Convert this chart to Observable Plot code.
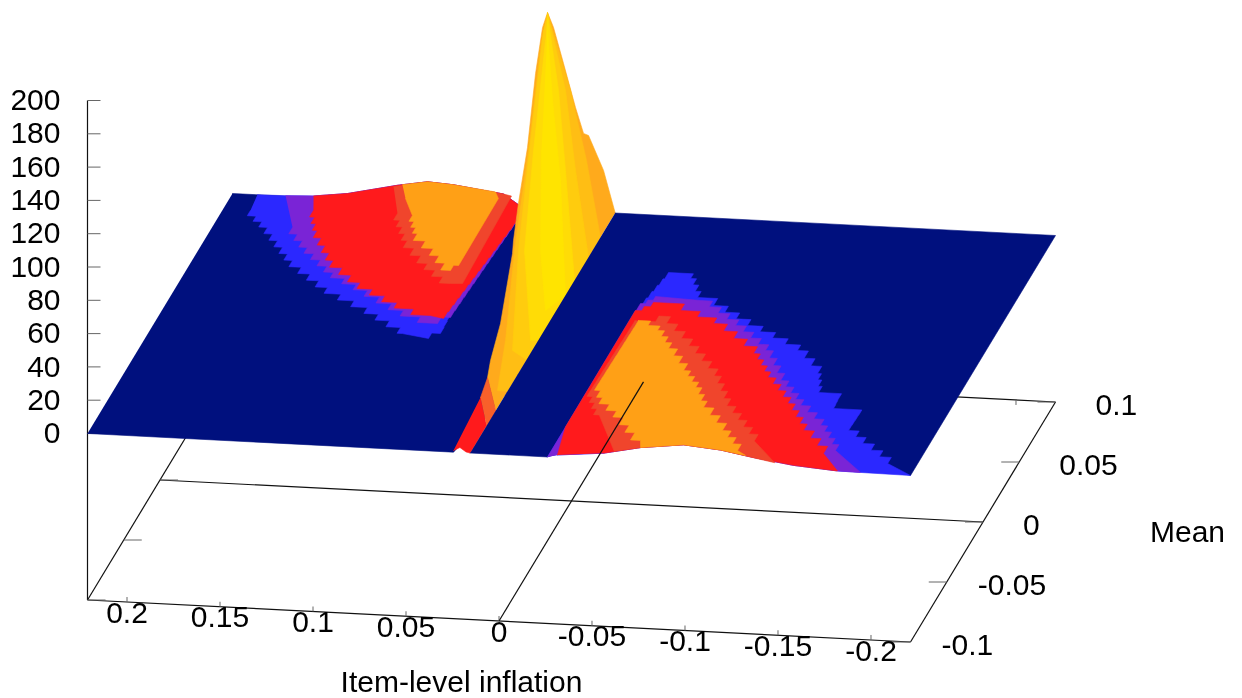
<!DOCTYPE html>
<html>
<head>
<meta charset="utf-8">
<style>html,body{margin:0;padding:0;background:#fff}svg{display:block;filter:blur(0.55px)}</style>
<script src="https://cdn.jsdelivr.net/npm/d3@7"></script>
<script src="https://cdn.jsdelivr.net/npm/@observablehq/plot@0.6"></script>
</head>
<body>
<div id="chart"></div>
<script>
// Tick values
const zTicks = [0,20,40,60,80,100,120,140,160,180,200];
const inflationTicks = [0.2,0.15,0.1,0.05,0,-0.05,-0.1,-0.15,-0.2];
const meanTicks = [0.1,0.05,0,-0.05,-0.1];
const FLOOR = -100;
const axisStretch = 0.904; // the inflation axis runs past +-0.2: tick value -> surface coordinate

// Surface regions, each vertex = [inflation, mean, density]
const planeLeft = [[0.2,-0.1,0],[0.0221,-0.1,0],[0.014,-0.05,0],[0.0404,0.0581,0],[0.061,0.1,0],[0.2,0.1,0]];
const planeRight = [[0.014,-0.1,0],[-0.0236,-0.1,0],[-0.07,-0.05,0],[-0.17,-0.09,0],[-0.2,-0.1,0],[-0.2,0.1,0],[0.014,0.1,0]];

const leftBlue = [[0.1879,0.1,0],[0.1742,0.1,0.3],[0.1606,0.1,1],[0.1441,0.1,3.5],[0.1198,0.1,10],[0.1052,0.1,13],[0.0926,0.1,12],[0.0683,0.1,8],[0.061,0.1,2],[0.058,0.0874,0],[0.0631,0.0162,0],[0.0621,-0.0046,0],[0.0663,-0.0091,0],[0.08,-0.0062,0],[0.0826,-0.0014,0],[0.1039,0.0134,0],[0.1284,0.0279,0],[0.1526,0.0483,0],[0.1738,0.074,0],[0.1867,0.087,0]];
const leftPurple = [[0.1742,0.1,0.3],[0.1606,0.1,1],[0.1441,0.1,3.5],[0.1198,0.1,10],[0.1052,0.1,13],[0.0926,0.1,12],[0.0683,0.1,8],[0.061,0.1,2],[0.058,0.0874,0],[0.0619,0.0088,0],[0.0663,0.0034,0],[0.0861,0.0125,0],[0.1087,0.0272,0],[0.1299,0.0403,0],[0.1493,0.0594,0],[0.162,0.075,0]];
const leftRed = [[0.1606,0.1,1],[0.1441,0.1,3.5],[0.1198,0.1,10],[0.1052,0.1,13],[0.0926,0.1,12],[0.0683,0.1,8],[0.061,0.1,2],[0.058,0.0874,0],[0.0649,0.0077,0],[0.0719,0.0095,0],[0.0912,0.0187,0],[0.1143,0.0333,0],[0.1333,0.05,0],[0.1494,0.0736,0],[0.157,0.0896,0]];
const leftRedOrange = [[0.1217,0.1,9],[0.1052,0.1,13],[0.0926,0.1,12],[0.0683,0.1,8],[0.0644,0.1,7],[0.0659,0.0367,0],[0.0716,0.0362,0],[0.0881,0.0515,0],[0.1041,0.0692,0],[0.1165,0.0906,0]];
const leftOrange = [[0.1174,0.1,10.5],[0.1052,0.1,13],[0.0926,0.1,12],[0.0722,0.1,9],[0.0732,0.1069,0],[0.0729,0.0511,0],[0.0753,0.0468,0],[0.0896,0.0638,0],[0.1014,0.0753,0],[0.1089,0.0896,0],[0.117,0.1031,0]];

const rightBlue = [[-0.0236,-0.1,0],[-0.0233,0.022,0],[-0.0281,0.0541,0],[-0.0402,0.0502,0],[-0.0489,0.0351,0],[-0.0587,0.0293,0],[-0.0804,0.0145,0],[-0.1111,-0.0036,0],[-0.1271,-0.0214,0],[-0.133,-0.0367,0],[-0.1442,-0.0424,0],[-0.1446,-0.049,0],[-0.1584,-0.0536,0],[-0.158,-0.0662,0],[-0.1683,-0.0761,0],[-0.1858,-0.0912,0],[-0.2,-0.1,0],[-0.1757,-0.1,0.3],[-0.1645,-0.1,0.5],[-0.1431,-0.1,2.5],[-0.1237,-0.1,6],[-0.1077,-0.1,9.5],[-0.0897,-0.1,11.5],[-0.0688,-0.1,8.5],[-0.0508,-0.1,4],[-0.0284,-0.1,1.5]];
const rightPurple = [[-0.0236,-0.1,0],[-0.0237,0.0279,0],[-0.0288,0.0342,0],[-0.0511,0.0328,0],[-0.0748,0.014,0],[-0.096,-0.0049,0],[-0.1117,-0.0286,0],[-0.1282,-0.048,0],[-0.1433,-0.0633,0],[-0.1575,-0.0829,0],[-0.1757,-0.1,0.3],[-0.1645,-0.1,0.5],[-0.1431,-0.1,2.5],[-0.1237,-0.1,6],[-0.1077,-0.1,9.5],[-0.0897,-0.1,11.5],[-0.0688,-0.1,8.5],[-0.0508,-0.1,4],[-0.0284,-0.1,1.5]];
const rightRed = [[-0.0284,-0.1,1.5],[-0.0235,-0.075,0],[-0.0233,0.022,0],[-0.0295,0.0293,0],[-0.0446,0.0239,0],[-0.0638,0.0148,0],[-0.0912,-0.0079,0],[-0.1047,-0.0267,0],[-0.1215,-0.0469,0],[-0.1367,-0.068,0],[-0.1527,-0.0858,0],[-0.1645,-0.1,0.5],[-0.1431,-0.1,2.5],[-0.1237,-0.1,6],[-0.1077,-0.1,9.5],[-0.0897,-0.1,11.5],[-0.0688,-0.1,8.5],[-0.0508,-0.1,4]];
const rightRedOrange = [[-0.026,0.0138,0],[-0.036,0.0185,0],[-0.0585,-0.0044,0],[-0.079,-0.0276,0],[-0.0935,-0.0514,0],[-0.1165,-0.0785,0],[-0.134,-0.1,3.5],[-0.1077,-0.1,9.5],[-0.0897,-0.1,11.5],[-0.0688,-0.1,8.5],[-0.056,-0.1,5.5],[-0.036,-0.0639,0],[-0.0249,-0.0445,0]];
const rightOrange = [[-0.0276,0.0141,0],[-0.0394,0.0068,0],[-0.0497,-0.0073,0],[-0.0631,-0.0245,0],[-0.0736,-0.0377,0],[-0.083,-0.0536,0],[-0.0985,-0.0714,0],[-0.1113,-0.0869,0],[-0.1198,-0.1,7],[-0.1077,-0.1,9.5],[-0.0897,-0.1,11.5],[-0.0688,-0.1,8.5],[-0.0627,-0.0828,0],[-0.0482,-0.065,0],[-0.0326,-0.0497,0],[-0.0267,-0.0385,0]];

// Central ridge, outer silhouette then nested levels of rising density
const ridgeOuter = [[0.014,0.1,0],[0.01,0.0726,45.6],[0.01,0.0519,81.5],[0.01,0.045,87.7],[0.01,0.0339,111.3],[0.01,0.0174,149.6],[0.01,0.0036,181.2],[0.01,-0.0047,196.1],[0.01,-0.0116,192],[0.01,-0.0212,171.4],[0.01,-0.0323,135],[0.01,-0.0448,110.4],[0.01,-0.0516,93],[0.01,-0.053,86.2],[0.01,-0.0695,56.1],[0.01,-0.0833,43.8],[0.01,-0.0874,36.5],[0.014,-0.065,0.4],[0.014,-0.1,0]];
const ridgeLevel1 = [[0.01,-0.0047,196.1],[0.01,0.027,126.5],[0.01,0.0491,68.5],[0.014,0.0797,0],[0.014,0.0025,0],[0.014,-0.0486,0],[0.01,-0.0737,18.8],[0.01,-0.0626,40.9],[0.01,-0.0502,86],[0.01,-0.0309,132.2],[0.01,-0.013,185.3]];
const ridgeLevel2 = [[0.01,-0.0047,196.1],[0.01,0.0201,131.4],[0.01,0.0339,73.4],[0.014,0.0632,0],[0.014,-0.0017,0],[0.014,-0.0223,0],[0.01,-0.053,28],[0.01,-0.0447,82],[0.01,-0.0295,131.2],[0.01,-0.0102,189.3]];
const ridgeLevel3 = [[0.01,-0.0047,195],[0.01,0.0105,138.4],[0.01,0.0201,83.4],[0.014,0.0439,0],[0.014,-0.0058,0],[0.01,-0.0281,16],[0.01,-0.0364,76],[0.01,-0.024,127.2],[0.01,-0.0074,181.3]];
const ridgeLevel4 = [[0.01,-0.0047,185.5],[0.01,0.0022,138.3],[0.01,0.0132,82.3],[0.014,0.0314,0],[0.01,-0.0074,19.1],[0.01,-0.0143,60.1],[0.01,-0.013,119.2]];
const ridgeFootRed = [[0.0221,-0.1,1],[0.019,-0.1,3],[0.016,-0.1,0.5],[0.014,-0.1,0],[0.014,-0.065,0.4],[0.01,-0.0888,8.7],[0.01,-0.0971,31.5]];
const ridgeFootOrange = [[0.01,-0.0971,31.5],[0.01,-0.0874,36.5],[0.014,-0.065,0.4],[0.01,-0.0888,8.7]];

// Oblique view: inflation, mean and density go to page pixels
const cx = 571, cy = 334;
const ux = -2057.5, uy = -105, vx = 725, vy = -1200, wy = -1.665;
const px = (a, m) => cx + ux * a + vx * m;
const py = (a, m, z) => cy + uy * a + vy * m + wy * z;

// The surface is a sampled grid, so flat boundaries between levels are stair-shaped cells
const cell = 0.006;
function cells(verts) {
  const out = [];
  verts.forEach((p, i) => {
    const q = verts[(i + 1) % verts.length];
    out.push(p);
    const flat = p[2] === 0 && q[2] === 0 && Math.abs(p[1]) < 0.1 && Math.abs(q[1]) < 0.1;
    const dm = q[1] - p[1];
    if (!flat || Math.abs(dm) < cell / 2) return;
    const n = Math.ceil(Math.abs(dm) / cell);
    for (let k = 1; k <= n; k++) {
      const a = p[0] + (q[0] - p[0]) * k / n;
      out.push([a, p[1] + dm * (k - 1) / n, 0]);
      out.push([a, p[1] + dm * k / n, 0]);
    }
  });
  return out;
}

const polygon = (verts, fill) => Plot.line(verts, {
  x: d => px(d[0], d[1]),
  y: d => py(d[0], d[1], d[2]),
  fill,
  stroke: fill,
  strokeWidth: 0.6,
  curve: "linear"
});
const band = (verts, fill) => polygon(cells(verts), fill);
const segment = (a1, m1, z1, a2, m2, z2, opts = {}) => Plot.link([0], {
  x1: () => px(a1, m1),
  y1: () => py(a1, m1, z1),
  x2: () => px(a2, m2),
  y2: () => py(a2, m2, z2),
  stroke: "#111",
  strokeWidth: 1.2,
  ...opts
});

const NAVY = "#00107e", BLUE = "#2b28ff", PURPLE = "#7a24d6", RED = "#ff1a1c", REDOR = "#f0452c", ORANGE = "#ffa016";
const font = {fontFamily: "'Liberation Sans', Arial, sans-serif", fontSize: 30, fill: "#000", stroke: "none"};
const tickGray = {stroke: "#666", strokeWidth: 1};

const edge = 0.2;
const chart = Plot.plot({
  width: 1242,
  height: 698,
  margin: 0,
  x: {domain: [0, 1242], range: [0, 1242], axis: null},
  y: {domain: [0, 698], range: [0, 698], axis: null},
  style: {background: "#fff"},
  marks: [
    // floor box
    segment(edge, -0.1, FLOOR, -edge, -0.1, FLOOR),
    segment(-edge, -0.1, FLOOR, -edge, 0.1, FLOOR),
    segment(-edge, 0.1, FLOOR, edge, 0.1, FLOOR),
    segment(edge, 0.1, FLOOR, edge, -0.1, FLOOR),
    segment(edge, 0, FLOOR, -edge, 0, FLOOR),
    segment(edge, -0.1, FLOOR, edge, -0.1, 200),
    // ticks
    Plot.link(zTicks, {x1: () => px(edge, -0.1), y1: z => py(edge, -0.1, z), x2: () => px(edge, -0.1) + 13, y2: z => py(edge, -0.1, z), ...tickGray}),
    Plot.link(inflationTicks, {x1: t => px(t * axisStretch, -0.1), y1: t => py(t * axisStretch, -0.1, FLOOR), x2: t => px(t * axisStretch, -0.1), y2: t => py(t * axisStretch, -0.1, FLOOR) - 5, ...tickGray}),
    Plot.link(inflationTicks, {x1: t => px(t * axisStretch, 0.1), y1: t => py(t * axisStretch, 0.1, FLOOR), x2: t => px(t * axisStretch, 0.1), y2: t => py(t * axisStretch, 0.1, FLOOR) + 5, ...tickGray}),
    Plot.link(meanTicks, {x1: m => px(-edge, m), y1: m => py(-edge, m, FLOOR), x2: m => px(-edge, m) - 18, y2: m => py(-edge, m, FLOOR), ...tickGray}),
    Plot.link(meanTicks, {x1: m => px(edge, m), y1: m => py(edge, m, FLOOR), x2: m => px(edge, m) + 18, y2: m => py(edge, m, FLOOR), ...tickGray}),
    // surface
    polygon(planeLeft, NAVY),
    band(leftBlue, BLUE),
    band(leftPurple, PURPLE),
    band(leftRed, RED),
    band(leftRedOrange, REDOR),
    band(leftOrange, ORANGE),
    polygon(ridgeOuter, "#ffaa1c"),
    polygon(ridgeLevel1, "#ffbe14"),
    polygon(ridgeLevel2, "#ffcc0e"),
    polygon(ridgeLevel3, "#ffdc06"),
    polygon(ridgeLevel4, "#ffe400"),
    polygon(ridgeFootRed, RED),
    polygon(ridgeFootOrange, "#f8602a"),
    polygon(planeRight, NAVY),
    band(rightBlue, BLUE),
    band(rightPurple, PURPLE),
    band(rightRed, RED),
    band(rightRedOrange, REDOR),
    band(rightOrange, ORANGE),
    // the x = 0 floor line shows through the surface
    segment(0, -0.1, FLOOR, 0, 0.0993, FLOOR),
    // labels
    Plot.text(zTicks, {x: () => px(edge, -0.1) - 27, y: z => py(edge, -0.1, z), text: z => String(z), textAnchor: "end", ...font}),
    Plot.text(inflationTicks, {x: t => px(t * axisStretch, -0.1), y: t => py(t * axisStretch, -0.1, FLOOR) + 11, text: t => String(t), textAnchor: "middle", ...font}),
    Plot.text(meanTicks, {x: m => px(-edge, m) + (m < 0 ? 31 : 40), y: m => py(-edge, m, FLOOR) + 3, text: m => String(m), textAnchor: "start", ...font}),
    Plot.text(["Mean"], {x: () => 1187, y: () => 532, text: d => d, textAnchor: "middle", ...font}),
    Plot.text(["Item-level inflation"], {x: () => 461, y: () => 682, text: d => d, textAnchor: "middle", ...font})
  ]
});
document.getElementById("chart").appendChild(chart);
</script>
</body>
</html>
